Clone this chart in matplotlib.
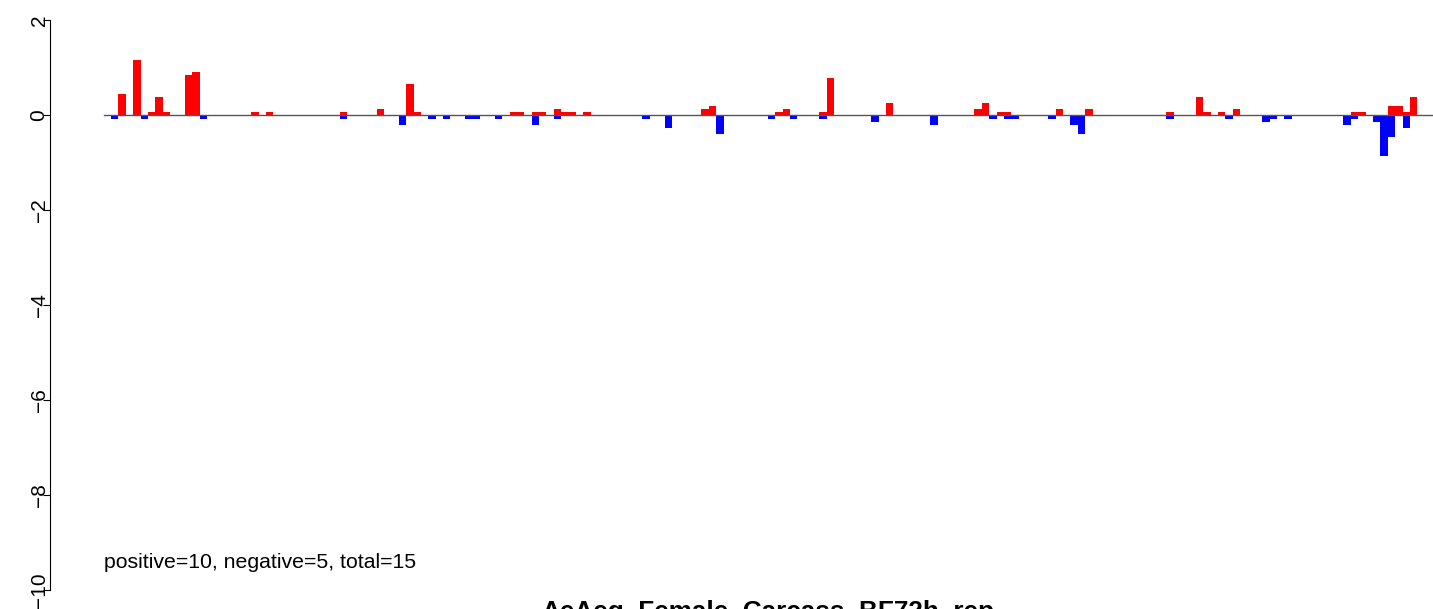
import numpy as np
import matplotlib
matplotlib.use("Agg")
import matplotlib.pyplot as plt
from matplotlib.transforms import blended_transform_factory

plt.rcParams['font.family'] = ['Liberation Sans', 'DejaVu Sans']

# -------------------------------
# data: bar slots and log ratios
# -------------------------------
n_slots = 177

up_slots = [1, 3, 5, 6, 7, 10, 11, 19, 21, 31, 36, 40, 41, 54, 55, 57, 58, 60, 61, 62,
            64, 80, 81, 90, 91, 96, 97, 105, 117, 118, 120, 121, 128, 132, 143, 147,
            148, 150, 152, 168, 169, 173, 174, 175, 176]
up_vals = [0.44, 1.16, 0.065, 0.38, 0.065, 0.84, 0.905, 0.065, 0.065, 0.065, 0.126, 0.65,
           0.065, 0.065, 0.065, 0.065, 0.065, 0.126, 0.065, 0.065, 0.065, 0.126, 0.19,
           0.065, 0.126, 0.065, 0.78, 0.25, 0.126, 0.25, 0.065, 0.065, 0.126, 0.126,
           0.065, 0.38, 0.065, 0.065, 0.126, 0.065, 0.065, 0.19, 0.19, 0.065, 0.38]

down_slots = [0, 4, 12, 31, 39, 43, 45, 48, 49, 52, 57, 60, 72, 75, 82, 89, 92, 96, 103,
              111, 119, 121, 122, 127, 130, 131, 143, 151, 156, 157, 159, 167, 168, 171,
              172, 173, 175]
down_vals = [-0.075, -0.075, -0.075, -0.075, -0.2, -0.075, -0.075, -0.075, -0.075, -0.075,
             -0.2, -0.075, -0.075, -0.27, -0.39, -0.075, -0.075, -0.075, -0.14, -0.2,
             -0.075, -0.075, -0.075, -0.075, -0.2, -0.39, -0.075, -0.075, -0.14, -0.075,
             -0.075, -0.2, -0.075, -0.14, -0.86, -0.46, -0.27]

y_ticks = [-10, -8, -6, -4, -2, 0, 2]
n_pos, n_neg = 10, 5
title = "AeAeg_Female_Carcass_BF72h_rep"

up = np.zeros(n_slots)
up[up_slots] = up_vals
down = np.zeros(n_slots)
down[down_slots] = down_vals

# -------------------------------
# layout (pixel based, R-like)
# -------------------------------
W, H = 1433, 609
x_axis_px = 50          # y axis line position
slot0_px, slot_w = 111, 7.38
zero_px, unit_px = 115, 47.5

fig = plt.figure(figsize=(W / 100, H / 100), dpi=100)
ax = fig.add_axes([x_axis_px / W, 0, 1 - x_axis_px / W, 1])
ax.set_xlim((x_axis_px - slot0_px) / slot_w, (W - slot0_px) / slot_w)
ax.set_ylim(-(H - zero_px) / unit_px, zero_px / unit_px)

x = np.arange(n_slots)
ax.bar(x, up, width=1, align='edge', color='#FF0000', linewidth=0)
ax.bar(x, down, width=1, align='edge', color='#0000FF', linewidth=0)
ax.plot([-1, (W - slot0_px) / slot_w], [0, 0], color='#555555', lw=1)

for s in ['top', 'right', 'bottom']:
    ax.spines[s].set_visible(False)
ax.spines['left'].set_bounds(-10, 2)
ax.spines['left'].set_linewidth(0.8)
ax.set_xticks([])
ax.set_yticks(y_ticks)
ax.set_yticklabels([])
ax.tick_params(axis='y', length=5, width=0.8)
ax.patch.set_visible(False)

# rotated tick labels, R style (parallel to the axis)
trans = blended_transform_factory(fig.dpi_scale_trans, ax.transData)
for t in y_ticks:
    lab = str(t) if t >= 0 else '\u2212' + str(-t)
    ax.text(44.5 / 100, t, lab, transform=trans, rotation=90, rotation_mode='anchor',
            ha='center', va='baseline', fontsize=15)

fig.text(104 / W, (H - 568) / H,
         "positive=%d, negative=%d, total=%d" % (n_pos, n_neg, n_pos + n_neg),
         fontsize=15.3, va='baseline', ha='left')
fig.text(768 / W, (H - 619) / H, title, fontsize=18.8, fontweight='bold',
         ha='center', va='baseline')

fig.savefig('out.png', dpi=100)
